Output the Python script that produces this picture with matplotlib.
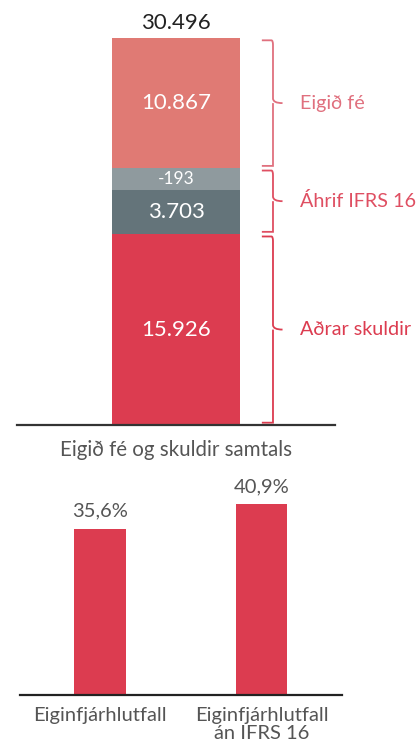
import matplotlib.pyplot as plt
from matplotlib.path import Path
from matplotlib.patches import PathPatch

plt.rcParams['font.family'] = ['Lato', 'DejaVu Sans']

# Top chart: equity and liabilities (m.kr.)
stack_labels = ['Aðrar skuldir', 'Áhrif IFRS 16', '', 'Eigið fé']
stack_values = [15926, 3703, -193, 10867]
stack_colors = ['#dc3c50', '#64747a', '#8f9a9e', '#e07a74']
total_value = 30496
top_title = 'Eigið fé og skuldir samtals'

# Bottom chart: equity ratio
ratio_labels = ['Eiginfjárhlutfall', 'Eiginfjárhlutfall\nán IFRS 16']
ratio_values = [35.6, 40.9]

min_seg = 1800  # small segments are drawn with this minimum height so they stay visible

red = '#dc3c50'
text_gray = '#555555'

fig = plt.figure(figsize=(4.19, 7.44), dpi=100)

# ---- top stacked bar
ax1 = fig.add_axes([17 / 419, 1 - 425 / 744, 318 / 419, 387 / 744])
heights = [max(abs(v), min_seg) for v in stack_values]
bottom = 0
bounds = []
for h, v, c in zip(heights, stack_values, stack_colors):
    ax1.bar(0, h, width=0.805, bottom=bottom, color=c, linewidth=0)
    ax1.text(0, bottom + h / 2, f'{v:,}'.replace(',', '.'), ha='center', va='center',
             color='white', fontsize=16 if abs(v) > 1000 else 12.5)
    bounds.append((bottom, bottom + h))
    bottom += h
ax1.set_xlim(-1, 1)
ax1.set_ylim(0, bottom)
ax1.text(0, bottom * 1.012, f'{total_value:,}'.replace(',', '.'), ha='center', va='bottom',
         color='#222222', fontsize=16)
for s in ['top', 'left', 'right']:
    ax1.spines[s].set_visible(False)
ax1.spines['bottom'].set_color('#333333')
ax1.spines['bottom'].set_linewidth(1.6)
ax1.set_xticks([])
ax1.set_yticks([])


def brace(ax, y0, y1, label, color):
    pad = (ax.get_ylim()[1]) * 0.006
    y0, y1 = y0 + pad, y1 - pad
    ym = (y0 + y1) / 2
    x0, x1, xt = 0.54, 0.61, 0.67
    r = (ax.get_ylim()[1]) * 0.012
    verts = [(x0, y1), (x1 - 0.01, y1), (x1, y1), (x1, y1 - r),
             (x1, ym + r), (x1, ym), (xt, ym), (x1, ym), (x1, ym - r),
             (x1, y0 + r), (x1, y0), (x1 - 0.01, y0), (x0, y0)]
    codes = [Path.MOVETO, Path.LINETO, Path.CURVE3, Path.CURVE3,
             Path.LINETO, Path.CURVE3, Path.CURVE3, Path.MOVETO, Path.CURVE3, Path.CURVE3,
             Path.LINETO, Path.CURVE3, Path.CURVE3]
    ax.add_patch(PathPatch(Path(verts, codes), fill=False, edgecolor=color,
                           linewidth=1.3, clip_on=False))
    ax.text(0.78, ym, label, ha='left', va='center', color=color, fontsize=14.2,
            clip_on=False)


brace(ax1, bounds[3][0], bounds[3][1], stack_labels[3], '#e0707e')
brace(ax1, bounds[1][0], bounds[2][1], stack_labels[1], '#df4f62')
brace(ax1, bounds[0][0], bounds[0][1], stack_labels[0], red)

fig.text(176 / 419, 1 - 450 / 744, top_title, ha='center', va='center',
         color=text_gray, fontsize=14.8)

# ---- bottom ratio bars
ax2 = fig.add_axes([20 / 419, 1 - 695 / 744, 322 / 419, 225 / 744])
xs = range(len(ratio_values))
ax2.bar(xs, ratio_values, width=0.316, color=red, linewidth=0)
for x, v in zip(xs, ratio_values):
    ax2.text(x, v + 2.0, f'{v:.1f}%'.replace('.', ','), ha='center', va='bottom',
             color=text_gray, fontsize=14.5)
ax2.set_xlim(-0.495, 1.498)
ax2.set_ylim(0, 48.3)
for s in ['top', 'left', 'right']:
    ax2.spines[s].set_visible(False)
ax2.spines['bottom'].set_color('#222222')
ax2.spines['bottom'].set_linewidth(1.6)
ax2.set_yticks([])
ax2.set_xticks(list(xs))
ax2.set_xticklabels(ratio_labels, color=text_gray, fontsize=14.5, linespacing=1.05)
ax2.tick_params(axis='x', length=0, pad=9)

fig.savefig('out.png', dpi=100)
